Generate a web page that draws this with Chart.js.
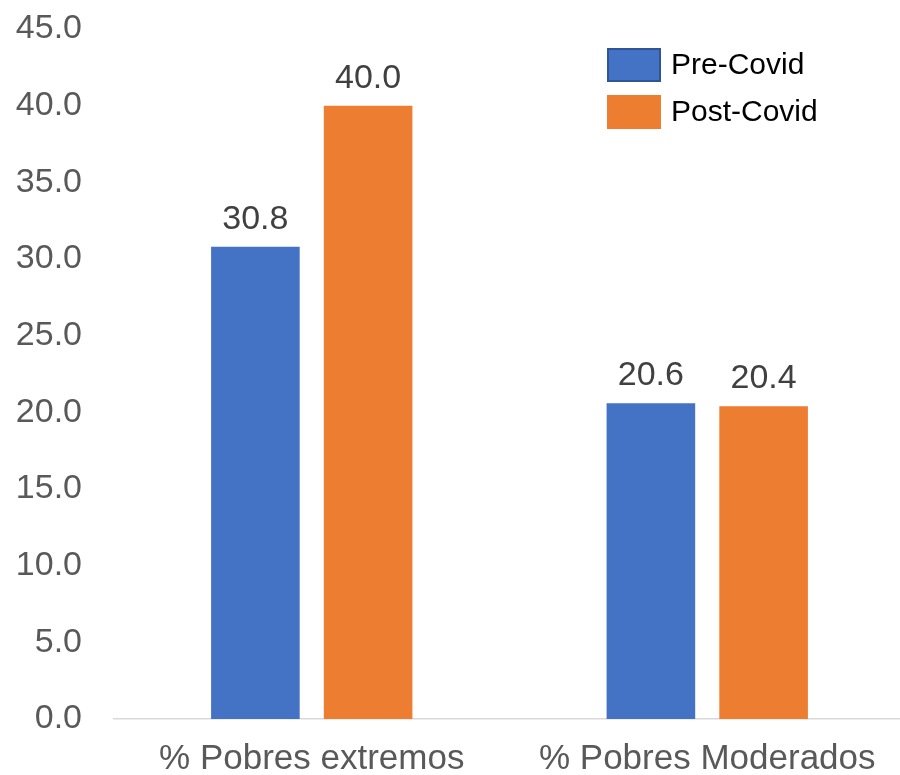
<!DOCTYPE html>
<html>
<head>
<meta charset="utf-8">
<script src="https://cdn.jsdelivr.net/npm/chart.js@4.4.0/dist/chart.umd.min.js"></script>
<style>
    body { margin: 0; overflow: hidden; background: #fff; }
    #wrap { position: relative; width: 905px; height: 775px; }
</style>
</head>
<body>
<div id="wrap"><canvas id="grafico"></canvas></div>
<script>
// datos
var categorias = ['% Pobres extremos', '% Pobres Moderados'];
var series = ['Pre-Covid', 'Post-Covid'];
var valoresPre = [30.8, 20.6];
var valoresPost = [40.0, 20.4];
var colores = ['#4472C4', '#ED7D31'];
var bordesLeyenda = ['#2F5597', null];

var fuente = 'Liberation Sans, Arial, sans-serif';

// etiquetas de valor encima de cada barra
var etiquetasValor = {
    id: 'etiquetasValor',
    afterDatasetsDraw: function (chart) {
        var ctx = chart.ctx;
        ctx.save();
        ctx.font = '34px ' + fuente;
        ctx.fillStyle = '#404040';
        ctx.textAlign = 'center';
        ctx.textBaseline = 'alphabetic';
        chart.data.datasets.forEach(function (ds, i) {
            chart.getDatasetMeta(i).data.forEach(function (barra, j) {
                ctx.fillText(ds.data[j].toFixed(1), barra.x, barra.y - 18);
            });
        });
        ctx.restore();
    }
};

// leyenda arriba a la derecha, dentro del area
var leyenda = {
    id: 'leyenda',
    afterDraw: function (chart) {
        var ctx = chart.ctx;
        ctx.save();
        ctx.font = '30px ' + fuente;
        ctx.textBaseline = 'middle';
        ctx.textAlign = 'left';
        chart.data.datasets.forEach(function (ds, i) {
            var x = 607, y = 48 + i * 47;
            ctx.fillStyle = ds.backgroundColor;
            ctx.fillRect(x, y, 54, 34);
            if (bordesLeyenda[i]) {
                ctx.strokeStyle = bordesLeyenda[i];
                ctx.lineWidth = 2;
                ctx.strokeRect(x + 1, y + 1, 52, 32);
            }
            ctx.fillStyle = '#000';
            ctx.fillText(ds.label, 671, y + 18);
        });
        ctx.restore();
    }
};

var ctx1 = document.getElementById('grafico').getContext('2d');
new Chart(ctx1, {
    type: 'bar',
    data: {
        labels: categorias,
        datasets: [{
                label: series[0],
                data: valoresPre,
                backgroundColor: colores[0]
            }, {
                label: series[1],
                data: valoresPost,
                backgroundColor: colores[1]
            }]
    },
    options: {
        responsive: true,
        maintainAspectRatio: false,
        animation: false,
        categoryPercentage: 0.57,
        barPercentage: 0.786,
        layout: {
            padding: {top: 29, left: 0, right: 0, bottom: 0}
        },
        plugins: {
            legend: {display: false},
            tooltip: {enabled: false}
        },
        scales: {
            x: {
                grid: {display: false},
                border: {display: true, color: '#D9D9D9', width: 1.5},
                ticks: {
                    color: '#595959',
                    font: {family: fuente, size: 35},
                    padding: 11,
                    maxRotation: 0
                },
                afterFit: function (scale) {
                    scale.height = 56;
                }
            },
            y: {
                min: 0,
                max: 45,
                grid: {display: false, tickLength: 32},
                border: {display: false},
                ticks: {
                    stepSize: 5,
                    color: '#595959',
                    font: {family: fuente, size: 34},
                    padding: 0,
                    callback: function (value) {
                        return value.toFixed(1);
                    }
                },
                afterFit: function (scale) {
                    scale.width = 114;
                }
            }
        }
    },
    plugins: [etiquetasValor, leyenda]
});
</script>
</body>
</html>
